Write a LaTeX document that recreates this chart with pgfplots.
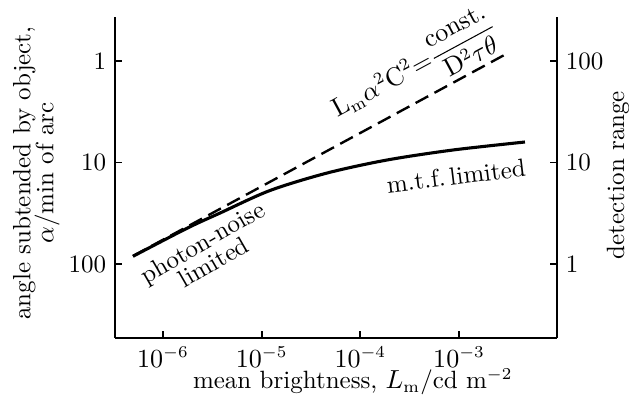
\documentclass[border=0pt]{standalone}
\usepackage{pgfplots}
\pgfplotsset{compat=1.18}
\usepackage{amsmath}
\begin{document}
\fontsize{10.5}{12.6}\selectfont
\begin{tikzpicture}
% fix the page to the reference's frame (1px = 0.42pt)
\path[use as bounding box] (-48.3pt,-29.82pt) rectangle (215.88pt,141.96pt);
\begin{axis}[
    scale only axis,
    width=185.64pt,
    height=134.82pt,
    xmode=log, ymode=log,
    y dir=reverse,
    xmin=3.27e-7, xmax=9.82e-3,
    ymin=0.3685, ymax=536,
    axis x line*=bottom,
    axis y line*=left,
    axis line style={-, line width=1pt},
    tick align=inside,
    major tick length=3pt,
    tick style={line width=0.8pt, black},
    minor tick style={draw=none},
    xtick={1e-6,1e-5,1e-4,1e-3},
    ytick={1,10,100},
    yticklabels={1,10,100},
    xlabel={mean brightness, $L_{\mathrm{m}}$/cd m$^{-2}$},
    xlabel style={at={(axis description cs:0.538,-0.137)}, anchor=center},
    ylabel={angle subtended by object,\\[-3pt] $\alpha$/min of arc},
    ylabel style={at={(axis description cs:-0.178,0.514)}, anchor=center, align=center},
    clip=false
]
% --- Lm alpha^2 = const. (dashed) ---
\addplot[black, line width=1pt, dash pattern=on 6pt off 3pt]
coordinates {(4.97e-7,83.4) (3.13e-3,0.834)};

% --- actual limit (solid) ---
\addplot[black, line width=1.3pt, smooth, tension=0.5]
coordinates {(4.97e-7,84) (1.75e-6,44.5) (3.78e-6,31.5) (1.21e-5,18.9)
 (4.59e-5,12.7) (1.86e-4,9.45) (8.67e-4,7.53) (4.65e-3,6.28)};

\node[rotate=28.4] at (axis cs:3.5e-4,1.16)
  {$\mathrm{L_m}\alpha^2\mathrm{C}^2{=}\dfrac{\mathrm{const.}}{\mathrm{D}^2\tau\theta}$};
\node[rotate=30, align=center] at (axis cs:2.86e-6,76.2) {photon-noise\\[-3pt] limited};
\node[rotate=7] at (axis cs:9.31e-4,13.6) {m.t.f.\,limited};
\end{axis}

% --- right-hand scale: detection range ---
\begin{axis}[
    scale only axis,
    width=185.64pt,
    height=134.82pt,
    xmode=log, ymode=log,
    xmin=3.27e-7, xmax=9.82e-3,
    ymin=0.1866, ymax=271.4,
    hide x axis,
    axis y line*=right,
    axis line style={-, line width=1pt},
    tick align=inside,
    major tick length=3pt,
    tick style={line width=0.8pt, black},
    minor tick style={draw=none},
    ytick={1,10,100},
    yticklabels={1,10,100},
    ylabel={detection range},
    ylabel style={at={(axis description cs:1.138,0.508)}, anchor=center}
]
\end{axis}
\end{tikzpicture}
\end{document}
